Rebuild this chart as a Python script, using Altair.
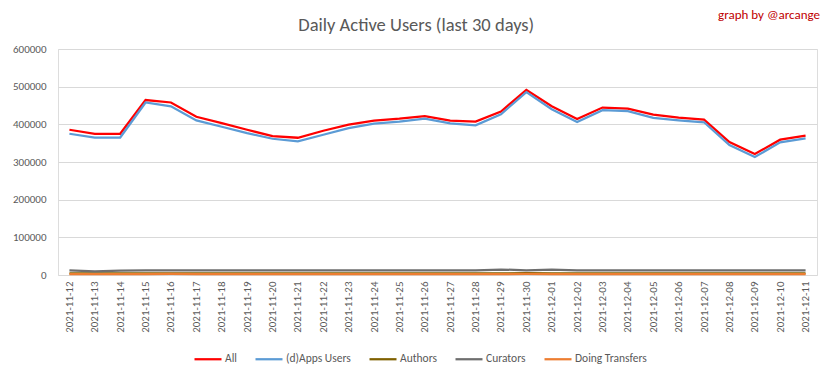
import altair as alt
import pandas as pd

dates = ["2021-11-12", "2021-11-13", "2021-11-14", "2021-11-15", "2021-11-16", "2021-11-17",
         "2021-11-18", "2021-11-19", "2021-11-20", "2021-11-21", "2021-11-22", "2021-11-23",
         "2021-11-24", "2021-11-25", "2021-11-26", "2021-11-27", "2021-11-28", "2021-11-29",
         "2021-11-30", "2021-12-01", "2021-12-02", "2021-12-03", "2021-12-04", "2021-12-05",
         "2021-12-06", "2021-12-07", "2021-12-08", "2021-12-09", "2021-12-10", "2021-12-11"]

all_users = [385600, 375000, 375000, 464500, 458000, 420000, 403000, 385600, 368800, 364400,
             383000, 399000, 409600, 414900, 422000, 410000, 407300, 434000, 491600, 448000,
             414400, 444500, 441900, 425900, 417900, 412600, 353100, 321200, 359300, 370000]
dapps_users = [375000, 365000, 365000, 458000, 447700, 410500, 393500, 376700, 361700, 354600,
               372300, 390000, 401600, 407000, 415000, 402800, 397500, 426800, 485400, 440000,
               406400, 437400, 434800, 417000, 410800, 405500, 345100, 313200, 352200, 362900]
authors = [4500, 4300, 4400, 4500, 4600, 4500, 4400, 4400, 4300, 4200,
           4400, 4500, 4500, 4500, 4600, 4500, 4400, 4600, 4700, 4600,
           4500, 4500, 4500, 4400, 4400, 4400, 4300, 4200, 4300, 4300]
curators = [12500, 9500, 11500, 12000, 12000, 12000, 12000, 12000, 12000, 12000,
            12000, 12000, 12000, 12000, 12000, 12000, 12000, 14500, 12500, 14500,
            12000, 12000, 12000, 12000, 12000, 12000, 12000, 12000, 12000, 12000]
transfers = [2500, 2400, 2400, 2600, 2700, 2500, 2500, 2500, 2400, 2400,
             2500, 2500, 2500, 2500, 2600, 2500, 2500, 2600, 2700, 2600,
             2500, 2500, 2500, 2500, 2500, 2500, 2600, 2400, 2400, 2400]

series_names = ["All", "(d)Apps Users", "Authors", "Curators", "Doing Transfers"]
series_colors = ["#ff0000", "#5b9bd5", "#7f6000", "#6e6e6e", "#ed7d31"]
y_ticks = [0, 100000, 200000, 300000, 400000, 500000, 600000]

rows = []
for name, vals in zip(series_names, [all_users, dapps_users, authors, curators, transfers]):
    for d, v in zip(dates, vals):
        rows.append({"date": d, "series": name, "value": v, "order": series_names.index(name)})
df = pd.DataFrame(rows)

FONT = "Calibri, Carlito, Roboto, sans-serif"
GREY = "#595959"

lines = alt.Chart(df).mark_line(strokeWidth=2.25).encode(
    x=alt.X("date:N", sort=dates, title=None,
            scale=alt.Scale(type="point", padding=0.45),
            axis=alt.Axis(labelAngle=-90, labelPadding=6, domain=False, ticks=False,
                          grid=False, labelColor=GREY, labelFontSize=11, labelFont=FONT)),
    y=alt.Y("value:Q", title=None,
            scale=alt.Scale(domain=[0, 600000], nice=False),
            axis=alt.Axis(values=y_ticks, format="d", domain=False, ticks=False,
                          gridColor="#d9d9d9", labelPadding=12, labelColor=GREY,
                          labelFontSize=11, labelFont=FONT)),
    color=alt.Color("series:N", sort=series_names,
                    scale=alt.Scale(domain=series_names, range=series_colors),
                    legend=alt.Legend(title=None, orient="none", direction="horizontal",
                                      legendX=135, legendY=295, symbolType="stroke",
                                      symbolSize=729, symbolStrokeWidth=2.25,
                                      labelFontSize=11.5, labelColor=GREY, labelFont=FONT,
                                      columnPadding=14, labelOffset=2)),
    order=alt.Order("order:Q", sort="descending"),
    detail="series:N",
)

credit = alt.Chart(pd.DataFrame({"t": ["graph by @arcange"]})).mark_text(
    align="right", baseline="middle", color="#c00000", fontSize=13, font=FONT
).encode(x=alt.value(762), y=alt.value(-34), text="t:N")

chart = alt.layer(lines, credit).properties(
    width=759, height=226,
    autosize=alt.AutoSizeParams(type="none"),
    padding={"left": 50, "top": 41, "right": 8, "bottom": 100},
    title=alt.TitleParams("Daily Active Users (last 30 days)", anchor="middle", frame="bounds",
                          fontSize=18.5, font=FONT, fontWeight="normal", color=GREY, offset=-25),
).configure_view(stroke=None).configure(background="white")

chart.save("out.html", embed_options={"renderer": "svg", "actions": False})
